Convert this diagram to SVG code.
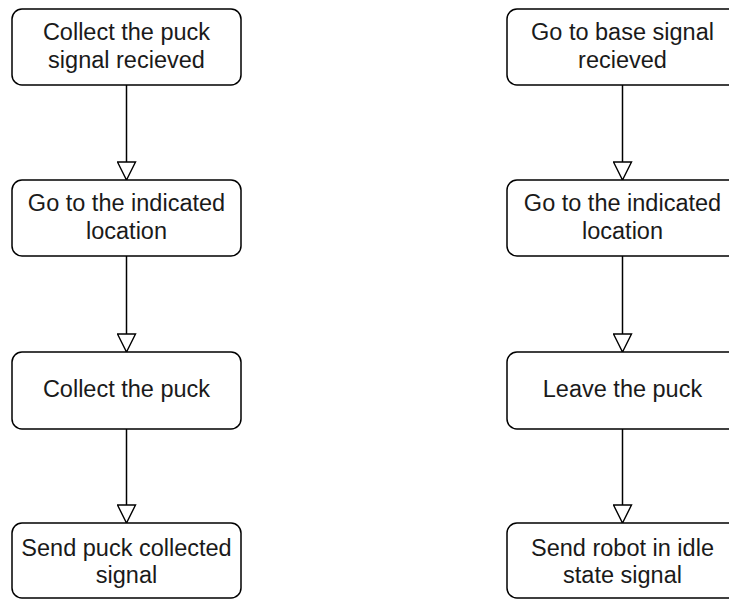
<svg xmlns="http://www.w3.org/2000/svg" width="729" height="599" viewBox="0 0 729 599">
<defs>
<style>
.box{fill:#fff;stroke:#000;stroke-width:1.5}
.t{font-family:"Liberation Sans",Arial,sans-serif;font-size:23.5px;fill:#1a1a1a;text-anchor:middle}
.edge{fill:none;stroke:#000;stroke-width:1.5}
</style>
<marker id="tri" viewBox="0 0 20 20" refX="19" refY="10" markerWidth="20" markerHeight="20" markerUnits="userSpaceOnUse" orient="auto">
<path d="M1,1 L19,10 L1,19 Z" fill="#fff" stroke="#000" stroke-width="1.4"/>
</marker>
</defs>
<rect width="729" height="599" fill="#fff"/>
<g id="connectors">
<line class="edge" x1="126.5" y1="85" x2="126.5" y2="180" marker-end="url(#tri)"/>
<line class="edge" x1="126.5" y1="256" x2="126.5" y2="352" marker-end="url(#tri)"/>
<line class="edge" x1="126.5" y1="429" x2="126.5" y2="523" marker-end="url(#tri)"/>
<line class="edge" x1="622.5" y1="85" x2="622.5" y2="180" marker-end="url(#tri)"/>
<line class="edge" x1="622.5" y1="256" x2="622.5" y2="352" marker-end="url(#tri)"/>
<line class="edge" x1="622.5" y1="429" x2="622.5" y2="523" marker-end="url(#tri)"/>
</g>
<g id="n1"><rect class="box" x="12" y="9" width="229" height="76" rx="10"/><text class="t" x="126.5" y="40">Collect the puck</text><text class="t" x="126.5" y="68">signal recieved</text></g>
<g id="n2"><rect class="box" x="12" y="180" width="229" height="76" rx="10"/><text class="t" x="126.5" y="211">Go to the indicated</text><text class="t" x="126.5" y="239">location</text></g>
<g id="n3"><rect class="box" x="12" y="352" width="229" height="77" rx="10"/><text class="t" x="126.5" y="397">Collect the puck</text></g>
<g id="n4"><rect class="box" x="12" y="523" width="229" height="75" rx="10"/><text class="t" x="126.5" y="556">Send puck collected</text><text class="t" x="126.5" y="583">signal</text></g>
<g id="n5"><rect class="box" x="507" y="9" width="231" height="76" rx="10"/><text class="t" x="622.5" y="40">Go to base signal</text><text class="t" x="622.5" y="68">recieved</text></g>
<g id="n6"><rect class="box" x="507" y="180" width="231" height="76" rx="10"/><text class="t" x="622.5" y="211">Go to the indicated</text><text class="t" x="622.5" y="239">location</text></g>
<g id="n7"><rect class="box" x="507" y="352" width="231" height="77" rx="10"/><text class="t" x="622.5" y="397">Leave the puck</text></g>
<g id="n8"><rect class="box" x="507" y="523" width="231" height="75" rx="10"/><text class="t" x="622.5" y="556">Send robot in idle</text><text class="t" x="622.5" y="583">state signal</text></g>
</svg>
